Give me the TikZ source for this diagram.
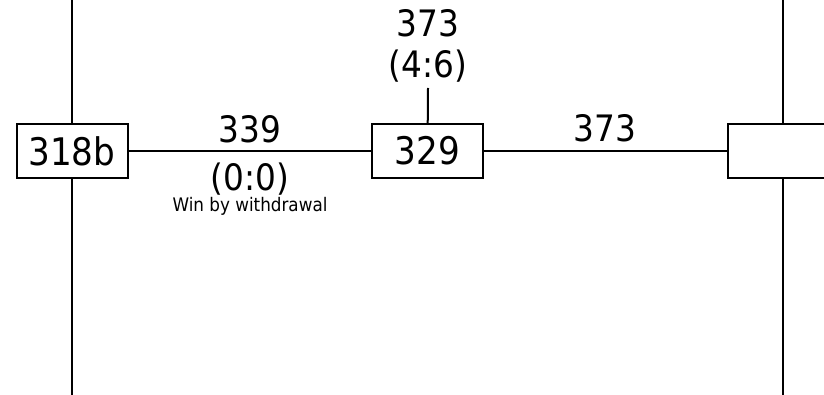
\documentclass[tikz,border=0pt]{standalone}
\usepackage{fontspec}
\setmainfont{DejaVu Sans Condensed}
\begin{document}
\begin{tikzpicture}[x=0.75pt,y=-0.75pt,line width=1.5pt,
  team/.style={draw,fill=white,minimum width=83.25pt,minimum height=40pt,inner sep=0pt,
    font=\fontsize{28.5}{28.5}\selectfont},
  score/.style={anchor=base,inner sep=0pt,font=\fontsize{27.3}{27.3}\selectfont},
  remark/.style={anchor=base,inner sep=0pt,font=\fontsize{14}{16}\selectfont}]
\useasboundingbox (0,0) rectangle (824,395);
\clip (0,0) rectangle (824,395);
% bracket lines
\coordinate (lt) at (72,0);
\coordinate (lb) at (72,395);
\coordinate (rt) at (783,0);
\coordinate (rb) at (783,395);
\draw (lt) -- (lb);
\draw (rt) -- (rb);
% teams
\node[team] (t318b) at (72,151) {318b};
\node[team] (t329) at (427.5,151) {329};
\node[team] (tnext) at (783,151) {};
\draw (t318b) -- (t329);
\draw (t329) -- (tnext);
% scores
\node[score] (s339) at (250,143) {339};
\node[score] (r339) at (250,191) {(0:0)};
\node[remark] (w339) at (250,212) {Win by withdrawal};
\node[score] (s373a) at (428,37) {373};
\node[score] (r373a) at (428,78) {(4:6)};
\node[score] (s373b) at (605,142) {373};
\coordinate (stub) at (428,88);
\draw (t329) -- (stub);
\end{tikzpicture}
\end{document}
